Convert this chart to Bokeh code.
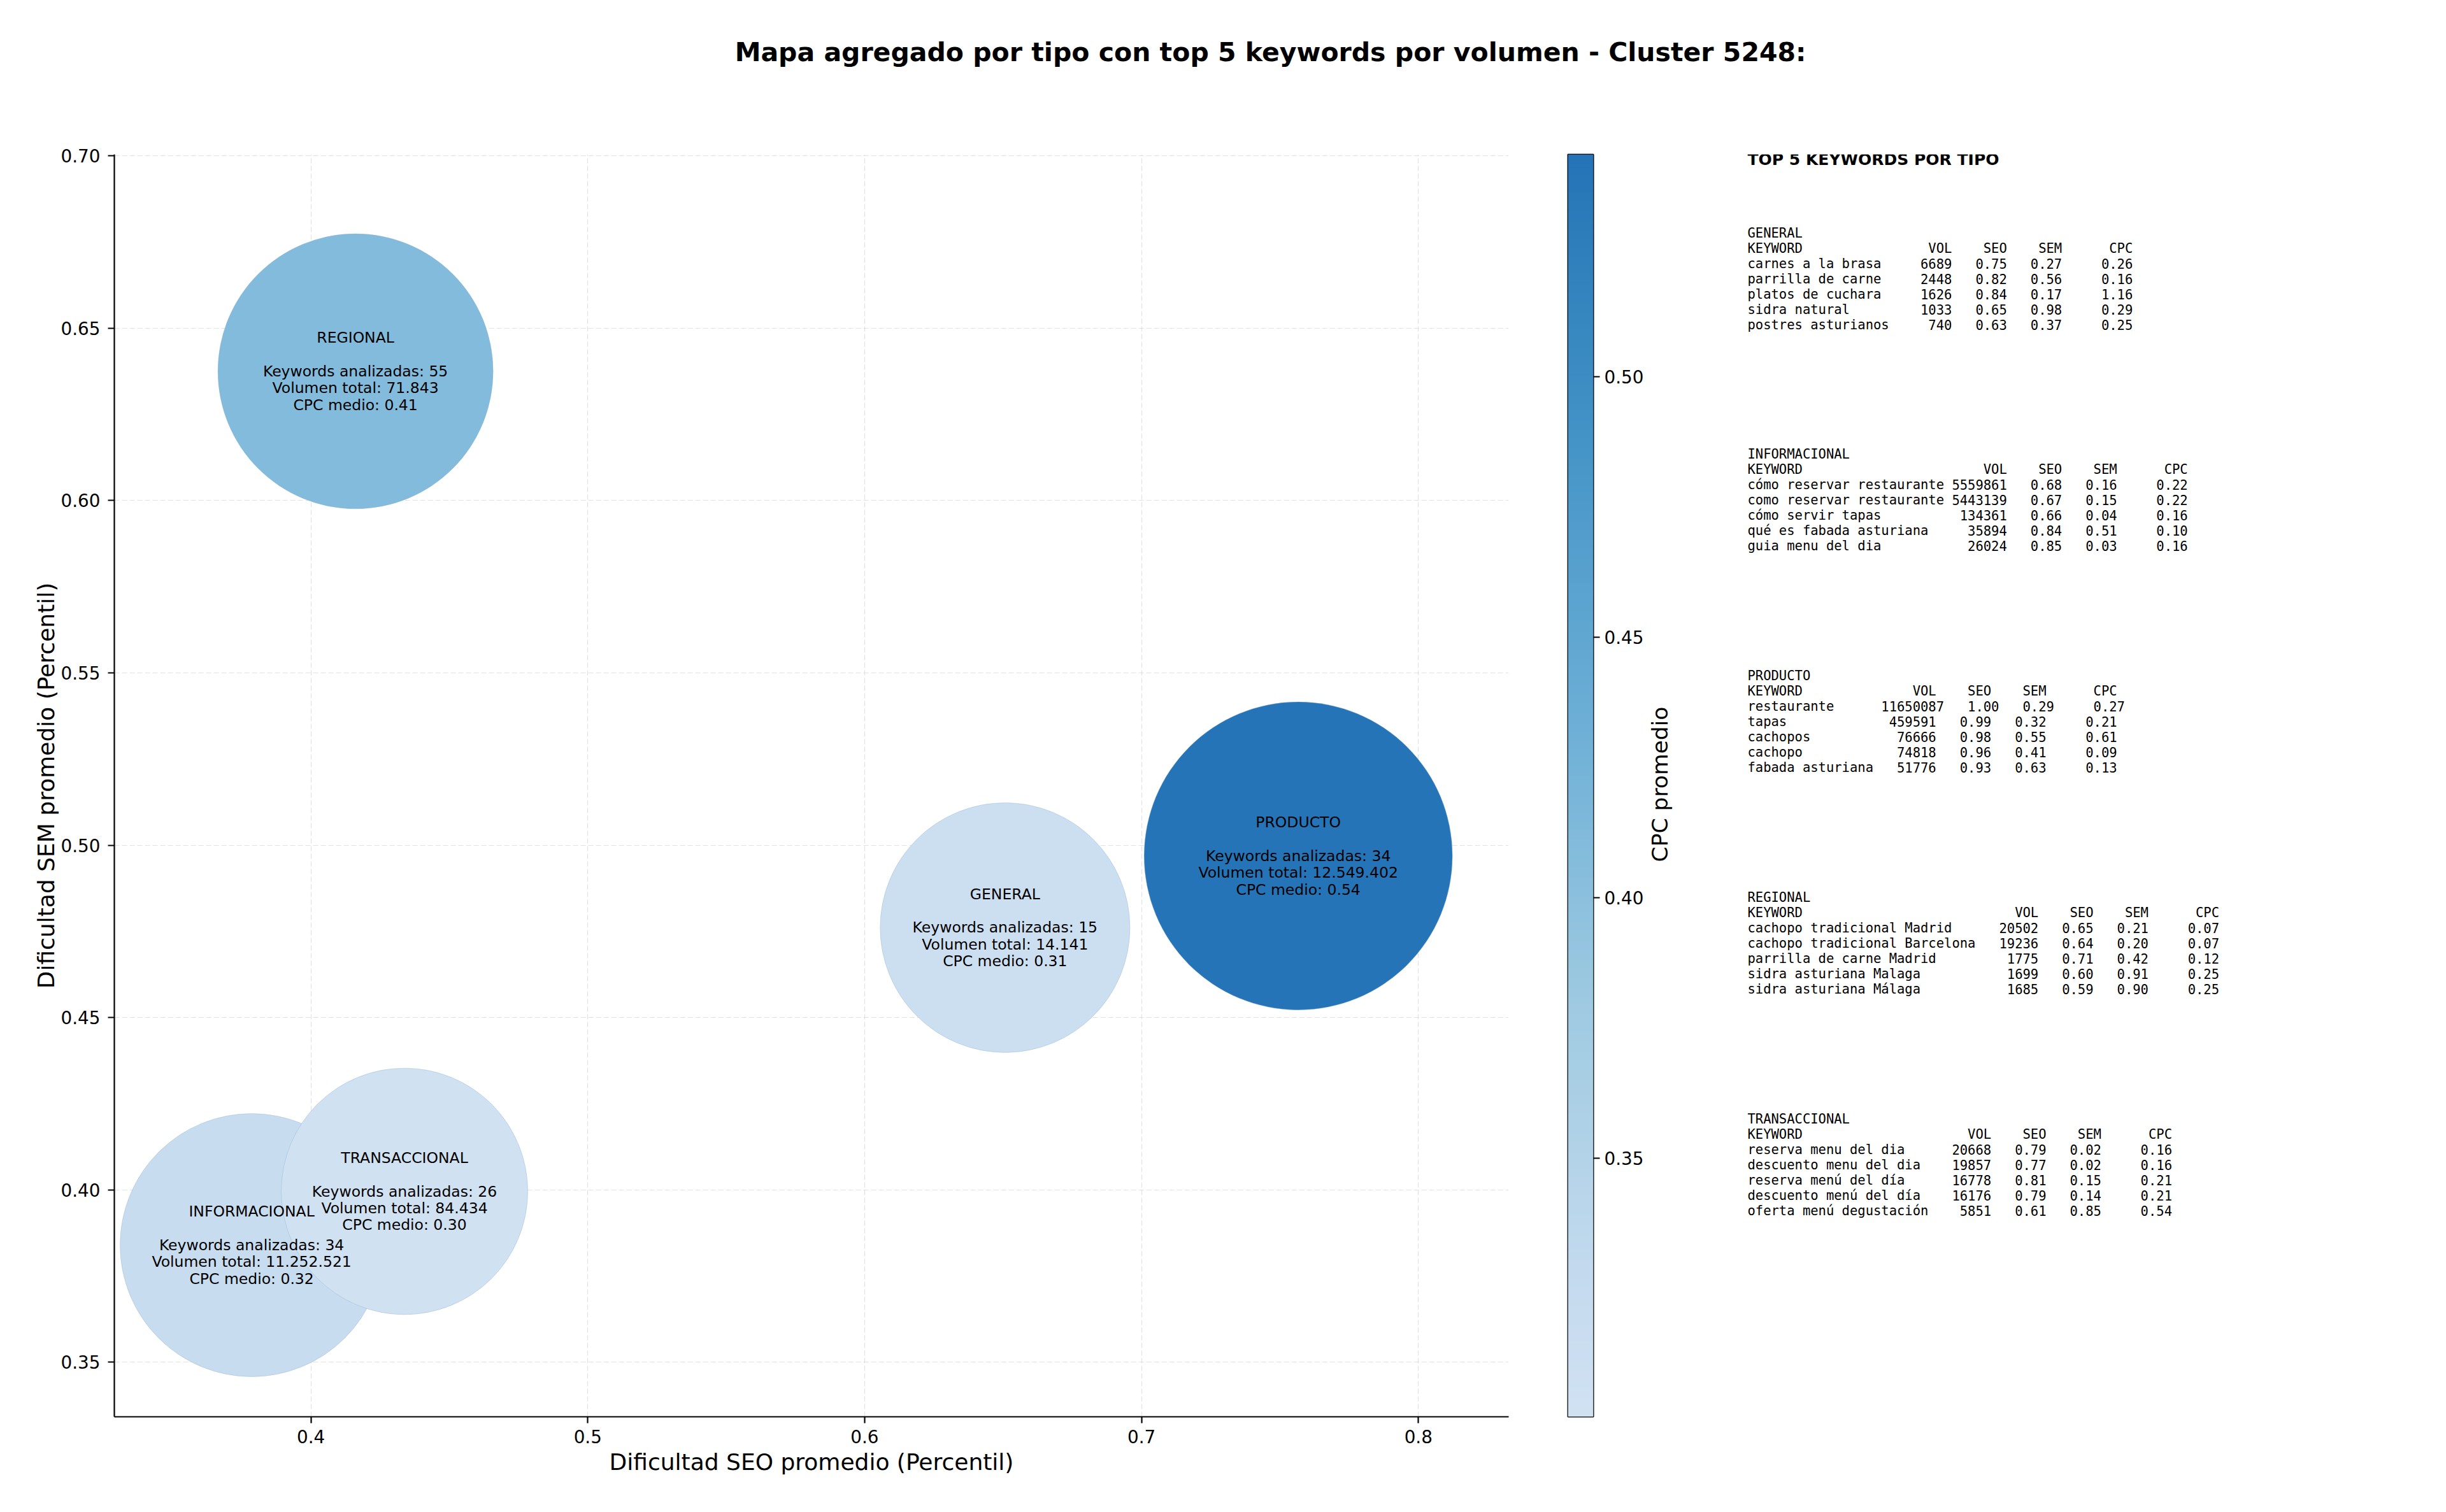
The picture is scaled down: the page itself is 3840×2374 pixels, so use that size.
import numpy as np
from bokeh.plotting import figure
from bokeh.models import (Range1d, LinearColorMapper, ColumnDataSource, FixedTicker,
                          PrintfTickFormatter)
from bokeh.layouts import column, row
from bokeh.palettes import Blues256
from bokeh.transform import transform
from bokeh.core.properties import value
from bokeh.embed import file_html
from bokeh.resources import INLINE

# ---------------- data ----------------
tipos = ["GENERAL", "INFORMACIONAL", "PRODUCTO", "REGIONAL", "TRANSACCIONAL"]
seo_prom = [0.6507, 0.3786, 0.7566, 0.4161, 0.4338]
sem_prom = [0.4761, 0.3840, 0.4969, 0.6375, 0.3996]
n_keywords = [15, 34, 34, 55, 26]
vol_total = [14141, 11252521, 12549402, 71843, 84434]
cpc_medio = [0.31, 0.32, 0.5427, 0.41, 0.3004]

kw_general = ["carnes a la brasa", "parrilla de carne", "platos de cuchara", "sidra natural", "postres asturianos"]
vol_general = [6689, 2448, 1626, 1033, 740]
seo_general = [0.75, 0.82, 0.84, 0.65, 0.63]
sem_general = [0.27, 0.56, 0.17, 0.98, 0.37]
cpc_general = [0.26, 0.16, 1.16, 0.29, 0.25]

kw_informacional = ["cómo reservar restaurante", "como reservar restaurante", "cómo servir tapas",
                    "qué es fabada asturiana", "guia menu del dia"]
vol_informacional = [5559861, 5443139, 134361, 35894, 26024]
seo_informacional = [0.68, 0.67, 0.66, 0.84, 0.85]
sem_informacional = [0.16, 0.15, 0.04, 0.51, 0.03]
cpc_informacional = [0.22, 0.22, 0.16, 0.10, 0.16]

kw_producto = ["restaurante", "tapas", "cachopos", "cachopo", "fabada asturiana"]
vol_producto = [11650087, 459591, 76666, 74818, 51776]
seo_producto = [1.00, 0.99, 0.98, 0.96, 0.93]
sem_producto = [0.29, 0.32, 0.55, 0.41, 0.63]
cpc_producto = [0.27, 0.21, 0.61, 0.09, 0.13]

kw_regional = ["cachopo tradicional Madrid", "cachopo tradicional Barcelona", "parrilla de carne Madrid",
               "sidra asturiana Malaga", "sidra asturiana Málaga"]
vol_regional = [20502, 19236, 1775, 1699, 1685]
seo_regional = [0.65, 0.64, 0.71, 0.60, 0.59]
sem_regional = [0.21, 0.20, 0.42, 0.91, 0.90]
cpc_regional = [0.07, 0.07, 0.12, 0.25, 0.25]

kw_transaccional = ["reserva menu del dia", "descuento menu del dia", "reserva menú del día",
                    "descuento menú del día", "oferta menú degustación"]
vol_transaccional = [20668, 19857, 16778, 16176, 5851]
seo_transaccional = [0.79, 0.77, 0.81, 0.79, 0.61]
sem_transaccional = [0.02, 0.02, 0.15, 0.14, 0.85]
cpc_transaccional = [0.16, 0.16, 0.21, 0.21, 0.54]

x_ticks = [0.4, 0.5, 0.6, 0.7, 0.8]
y_ticks = [0.35, 0.40, 0.45, 0.50, 0.55, 0.60, 0.65, 0.70]
cb_ticks = [0.35, 0.40, 0.45, 0.50]

tablas = [
    (kw_general, vol_general, seo_general, sem_general, cpc_general),
    (kw_informacional, vol_informacional, seo_informacional, sem_informacional, cpc_informacional),
    (kw_producto, vol_producto, seo_producto, sem_producto, cpc_producto),
    (kw_regional, vol_regional, seo_regional, sem_regional, cpc_regional),
    (kw_transaccional, vol_transaccional, seo_transaccional, sem_transaccional, cpc_transaccional),
]

# ---------------- styles / layout ----------------
bubble_diam_px = [392, 413, 484, 432, 387]
FONT = "DejaVu Sans"
MONO = "DejaVu Sans Mono"
TOTAL_W, TOTAL_H = 3840, 2374
TITLE_H = 160
MAIN_W = 2398
CB_W = 185
TXT_W = TOTAL_W - MAIN_W - CB_W
ROW_H = TOTAL_H - TITLE_H
B_TOP, B_BOT = 82, 150             # borders shared by the aligned row
FRAME_TOP_WIN = TITLE_H + B_TOP     # window y of frame top
FRAME_BOT_WIN = TOTAL_H - B_BOT     # window y of frame bottom

pal = list(reversed(Blues256))
pal = pal[int(0.2 * 255): int(0.74 * 255) + 1]
cmin, cmax = min(cpc_medio), max(cpc_medio)
mapper = LinearColorMapper(palette=pal, low=cmin, high=cmax)


def fmt_vol(v):
    return f"{v:,}".replace(",", ".")


labels = [f"{t}\n\nKeywords analizadas: {n}\nVolumen total: {fmt_vol(v)}\nCPC medio: {c:.2f}"
          for t, n, v, c in zip(tipos, n_keywords, vol_total, cpc_medio)]

# ---------------- title ----------------
tt = figure(width=TOTAL_W, height=TITLE_H, x_range=Range1d(0, TOTAL_W), y_range=Range1d(0, TITLE_H),
            min_border=0, toolbar_location=None, output_backend="svg",
            x_axis_location=None, y_axis_location=None)
tt.grid.visible = False
tt.outline_line_color = None
tt.text(x=[1994], y=[TITLE_H - 81],
        text=["Mapa agregado por tipo con top 5 keywords por volumen - Cluster 5248:"],
        text_font=value(FONT), text_font_size="41px", text_font_style="bold",
        text_align="center", text_baseline="middle", text_color="black")

# ---------------- main plot ----------------
p = figure(width=MAIN_W, height=ROW_H,
           x_range=Range1d(0.3290, 0.8326), y_range=Range1d(0.3342, 0.7004),
           min_border_left=179, min_border_right=30, min_border_top=B_TOP, min_border_bottom=B_BOT,
           toolbar_location=None, output_backend="svg")
p.outline_line_color = None
p.background_fill_color = "white"

for ax, ticks, f in ((p.xaxis, x_ticks, "%.1f"), (p.yaxis, y_ticks, "%.2f")):
    ax.ticker = FixedTicker(ticks=ticks)
    ax.formatter = PrintfTickFormatter(format=f)
    ax.axis_line_color = "black"
    ax.axis_line_width = 2.2
    ax.major_tick_line_color = "black"
    ax.major_tick_line_width = 2.2
    ax.major_tick_out = 10
    ax.major_tick_in = 0
    ax.minor_tick_line_color = None
    ax.major_label_text_font = FONT
    ax.major_label_text_font_size = "27.8px"
    ax.major_label_text_color = "black"
    ax.axis_label_text_font = FONT
    ax.axis_label_text_font_size = "36px"
    ax.axis_label_text_font_style = "normal"
    ax.axis_label_text_color = "black"

p.xaxis.axis_label = "Dificultad SEO promedio (Percentil)"
p.yaxis.axis_label = "Dificultad SEM promedio (Percentil)"
p.xaxis.major_label_standoff = 10
p.yaxis.major_label_standoff = 12
p.xaxis.axis_label_standoff = 6
p.yaxis.axis_label_standoff = 0

p.xgrid.ticker = FixedTicker(ticks=x_ticks)
p.ygrid.ticker = FixedTicker(ticks=y_ticks)
p.grid.grid_line_color = "#cfcfcf"
p.grid.grid_line_alpha = 0.6
p.grid.grid_line_dash = "8 4"
p.grid.grid_line_width = 1.2

src = ColumnDataSource(dict(x=seo_prom, y=sem_prom, cpc=cpc_medio, d=bubble_diam_px, lbl=labels))
p.scatter(x="x", y="y", size="d", source=src, fill_color=transform("cpc", mapper), fill_alpha=1.0,
          line_color="#8fb0cf", line_alpha=0.4, line_width=1)
p.text(x="x", y="y", text="lbl", source=src, text_align="center", text_baseline="middle",
       text_font=value(FONT), text_font_size="23.5px", text_line_height=0.94, text_color="black")

# ---------------- colorbar ----------------
cb = figure(width=CB_W, height=ROW_H, x_range=Range1d(0, 1), y_range=Range1d(cmin, cmax),
            min_border_left=63, min_border_right=CB_W - 63 - 42, min_border_top=B_TOP - 4,
            min_border_bottom=B_BOT,
            toolbar_location=None, output_backend="svg",
            x_axis_location=None, y_axis_location="right")
cb.grid.visible = False
grad = np.linspace(cmin, cmax, 400).reshape(-1, 1)
cb.image(image=[grad], x=0, y=cmin, dw=1, dh=cmax - cmin, color_mapper=mapper)
cb.outline_line_color = "black"
cb.outline_line_width = 2
cb.yaxis.ticker = FixedTicker(ticks=cb_ticks)
cb.yaxis.formatter = PrintfTickFormatter(format="%.2f")
cb.yaxis.axis_line_color = None
cb.yaxis.major_tick_line_color = "black"
cb.yaxis.major_tick_line_width = 2.2
cb.yaxis.major_tick_out = 10
cb.yaxis.major_tick_in = 0
cb.yaxis.minor_tick_line_color = None
cb.yaxis.major_label_standoff = 7
cb.yaxis.major_label_text_font = FONT
cb.yaxis.major_label_text_font_size = "27.8px"
cb.yaxis.major_label_text_color = "black"

# ---------------- text panel ----------------
tf = figure(width=TXT_W, height=ROW_H, x_range=Range1d(0, TXT_W),
            y_range=Range1d(TOTAL_H - FRAME_BOT_WIN, TOTAL_H - FRAME_TOP_WIN),
            min_border_left=0, min_border_right=0, min_border_top=B_TOP, min_border_bottom=B_BOT,
            toolbar_location=None, output_backend="svg",
            x_axis_location=None, y_axis_location=None)
tf.grid.visible = False
tf.outline_line_color = None
X0 = MAIN_W + CB_W  # window x of the text panel


def wy(y_window):
    return TOTAL_H - y_window


# colorbar label (rotated, reads bottom to top)
tf.text(x=[2605 - X0], y=[wy(1231)], text=["CPC promedio"], angle=np.pi / 2,
        text_font=value(FONT), text_font_size="34.5px", text_align="center", text_baseline="middle",
        text_color="black")

TX = 2743 - X0
tf.text(x=[TX], y=[wy(250)], text=["TOP 5 KEYWORDS POR TIPO"], text_font=value(FONT),
        text_font_size="25px", text_font_style="bold", text_align="left", text_baseline="middle",
        text_color="black")

MONO_PX = 20.5
CW = 0.60205 * MONO_PX
LH = 24.0
left_x, left_y, left_t = [], [], []
right_x, right_y, right_t = [], [], []
for i, (tipo, tab) in enumerate(zip(tipos, tablas)):
    kws, vols, seos, sems, cpcs = tab
    y0 = 365 + 347.8 * i
    maxlen = max(len(k) for k in kws)
    left_x.append(TX); left_y.append(wy(y0)); left_t.append(tipo)
    yh = y0 + LH
    left_x.append(TX); left_y.append(wy(yh)); left_t.append("KEYWORD")
    e1 = maxlen + 1 + 7
    for txt, e in (("VOL", e1), ("SEO", e1 + 7), ("SEM", e1 + 14), ("CPC", e1 + 23)):
        right_x.append(TX + e * CW); right_y.append(wy(yh)); right_t.append(txt)
    for k in range(len(kws)):
        yr = y0 + LH * (2 + k)
        left_x.append(TX); left_y.append(wy(yr)); left_t.append(kws[k])
        vs = str(vols[k])
        e1 = maxlen + 1 + max(7, len(vs))
        e2 = e1 + 7
        e3 = e2 + 7
        e4 = e3 + 9
        for txt, e in ((vs, e1), (f"{seos[k]:.2f}", e2), (f"{sems[k]:.2f}", e3), (f"{cpcs[k]:.2f}", e4)):
            right_x.append(TX + e * CW); right_y.append(wy(yr)); right_t.append(txt)

tf.text(x=left_x, y=left_y, text=left_t, text_font=value(MONO), text_font_size=f"{MONO_PX}px",
        text_align="left", text_baseline="middle", text_color="black")
tf.text(x=right_x, y=right_y, text=right_t, text_font=value(MONO), text_font_size=f"{MONO_PX}px",
        text_align="right", text_baseline="middle", text_color="black")

layout = column(tt, row(p, cb, tf))
open("out.html", "w").write(file_html(layout, INLINE))
